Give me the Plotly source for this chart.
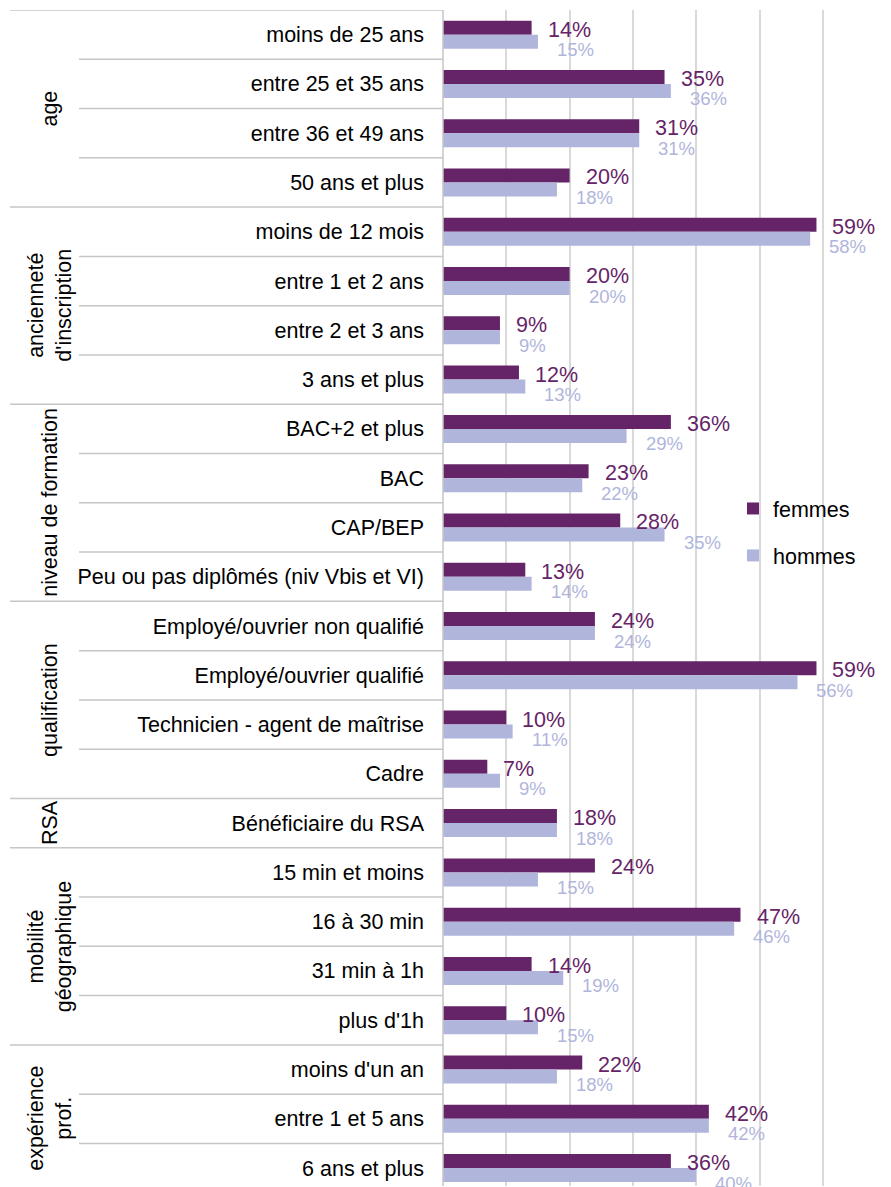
import plotly.graph_objects as go

groups = ["age", "ancienneté<br>d'inscription", "niveau de formation", "qualification",
          "RSA", "mobilité<br>géographique", "expérience<br>prof."]
group_sizes = [4, 4, 4, 4, 1, 4, 3]

categories = [
    "moins de 25 ans", "entre 25 et 35 ans", "entre 36 et 49 ans", "50 ans et plus",
    "moins de 12 mois", "entre 1 et 2 ans", "entre 2 et 3 ans", "3 ans et plus",
    "BAC+2 et plus", "BAC", "CAP/BEP", "Peu ou pas diplômés (niv Vbis et VI)",
    "Employé/ouvrier non qualifié", "Employé/ouvrier qualifié",
    "Technicien - agent de maîtrise", "Cadre",
    "Bénéficiaire du RSA",
    "15 min et moins", "16 à 30 min", "31 min à 1h", "plus d'1h",
    "moins d'un an", "entre 1 et 5 ans", "6 ans et plus",
]
femmes = [14, 35, 31, 20, 59, 20, 9, 12, 36, 23, 28, 13, 24, 59, 10, 7, 18, 24, 47, 14, 10, 22, 42, 36]
hommes = [15, 36, 31, 18, 58, 20, 9, 13, 29, 22, 35, 14, 24, 56, 11, 9, 18, 15, 46, 19, 15, 18, 42, 40]

C_F = "#662468"
C_H = "#B0B5DC"
LINE = "#C6C6C6"
GRID = "#D9D9D9"
FONT = "Liberation Sans, Arial, sans-serif"

# page has an 8px body margin: figure coordinates = page coordinates - 8
W, H = 883, 1179
L, R, T, B = 435, 13, 2, 1
plot_w = W - L - R
plot_h = H - T - B
xmax = plot_w / 6.33
row_px = 49.28  # the last row runs slightly past the bottom edge, as in the reference

n = len(categories)
ypos = list(range(n))
y_bottom = -0.5 + plot_h / row_px

fig = go.Figure()
fig.add_trace(go.Bar(y=ypos, x=femmes, orientation="h", name="femmes",
                     marker=dict(color=C_F, line=dict(width=0)), legendgroup="f",
                     hoverinfo="x+name"))
fig.add_trace(go.Bar(y=ypos, x=hommes, orientation="h", name="hommes",
                     marker=dict(color=C_H, line=dict(width=0)), legendgroup="h",
                     hoverinfo="x+name"))

annotations = []
for i in range(n):
    annotations.append(dict(x=femmes[i], y=i, xref="x", yref="y", text=f"{femmes[i]}%",
                            showarrow=False, xanchor="left", yanchor="middle",
                            xshift=14, yshift=5, font=dict(family=FONT, size=21.5, color=C_F)))
    annotations.append(dict(x=hommes[i], y=i, xref="x", yref="y", text=f"{hommes[i]}%",
                            showarrow=False, xanchor="left", yanchor="middle",
                            xshift=17, yshift=-15, font=dict(family=FONT, size=18.5, color=C_H)))

def px2paper(px):
    return (px - L) / plot_w

shapes = []
start = 0
group_starts = []
for g, s in zip(groups, group_sizes):
    group_starts.append(start)
    annotations.append(dict(x=px2paper(42), y=start + (s - 1) / 2, xref="paper", yref="y",
                            text=g, showarrow=False, textangle=-90,
                            xanchor="center", yanchor="middle",
                            font=dict(family=FONT, size=21.5, color="#000000")))
    start += s

for i in range(n):
    b = i - 0.5
    x0 = px2paper(2) if i in group_starts else px2paper(71)
    shapes.append(dict(type="line", xref="paper", yref="y", x0=x0, x1=0, y0=b, y1=b,
                       line=dict(color=LINE, width=1.5)))
shapes.append(dict(type="line", xref="paper", yref="paper", x0=0, x1=0, y0=0, y1=1,
                   line=dict(color=LINE, width=1.5)))

fig.update_layout(
    width=W, height=H,
    margin=dict(l=L, r=R, t=T, b=B),
    paper_bgcolor="white", plot_bgcolor="white",
    barmode="group", bargap=0.432, bargroupgap=0,
    font=dict(family=FONT, size=21.5, color="#000000"),
    xaxis=dict(range=[0, xmax], tickvals=[10, 20, 30, 40, 50, 60], showticklabels=False,
               showgrid=True, gridcolor=GRID, gridwidth=1.5, zeroline=False, showline=False,
               fixedrange=True),
    yaxis=dict(range=[y_bottom, -0.5], tickvals=ypos, ticktext=categories, ticks="",
               ticklabelstandoff=18, showgrid=False, zeroline=False, showline=False,
               tickfont=dict(family=FONT, size=21.5, color="#000000"), fixedrange=True),
    legend=dict(x=px2paper(725), y=1 - (480 - T) / plot_h, xanchor="left", yanchor="top",
                bgcolor="rgba(0,0,0,0)", tracegroupgap=16,
                font=dict(family=FONT, size=21.5, color="#000000"), itemwidth=30),
    shapes=shapes, annotations=annotations,
    showlegend=True,
)

fig.write_html("out.html")
